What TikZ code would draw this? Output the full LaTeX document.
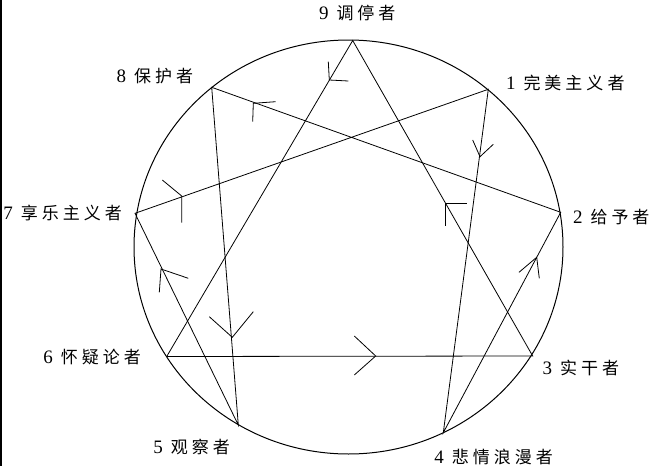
\documentclass[tikz,border=0pt]{standalone}
\usepackage{fontspec}
\setmainfont{Liberation Serif}
\newfontfamily\cjk{Noto Sans CJK SC}
\def\spaced#1{\ifx#1\relax\else#1\kern4pt\expandafter\spaced\fi}
\newcommand\lab[2]{{\fontsize{19}{19}\selectfont #1}\kern8pt{\cjk\fontsize{17}{17}\selectfont\spaced #2\relax}}
\begin{document}
\begin{tikzpicture}[x=1pt,y=-1pt,
  edge/.style={line width=0.8pt,black},
  barb/.style={line width=0.8pt,black,line join=miter},
  lbl/.style={anchor=base west,inner sep=0pt,outer sep=0pt}]
\useasboundingbox (0,0) rectangle (654,466);
\draw[line width=1.6pt] (0.8,0) -- (0.8,466);
\draw[line width=1pt] (348.5,247) ellipse [x radius=214.5, y radius=207];
\coordinate (p9) at (352.7,40.5);
\coordinate (p1) at (488.3,89.3);
\coordinate (p2) at (560.7,212.3);
\coordinate (p3) at (532.7,356);
\coordinate (p4) at (443.3,432.7);
\coordinate (p5) at (238.3,425);
\coordinate (p6) at (166.7,356.5);
\coordinate (p7) at (135,213.3);
\coordinate (p8) at (211.7,87.3);
\draw[edge] (p9) -- (p3) -- (p6) -- cycle;
\draw[edge] (p1) -- (p4) -- (p2) -- (p8) -- (p5) -- (p7) -- cycle;
% arrowheads
\draw[barb] (328.3,61.7) -- (329.3,80) -- (348.3,81);
\draw[barb] (275.7,101.7) -- (253.3,103.3) -- (252.7,121.7);
\draw[barb] (472.7,140) -- (480,156.7) -- (493.3,144.3);
\draw[barb] (466.7,203.3) -- (445,203.3) -- (445,226);
\draw[barb] (162.3,180) -- (181.7,196) -- (181.7,222.7);
\draw[barb] (188.3,278.3) -- (161,269) -- (159.3,292.3);
\draw[barb] (209.3,316.7) -- (232.3,337.3) -- (253.3,311.7);
\draw[barb] (354.3,336) -- (375.7,356) -- (354.3,375);
\draw[barb] (519,272.3) -- (536.7,257.3) -- (539.3,278.3);
% labels
\node[lbl] (t9) at (319,19.5) {\lab{9}{调停者}};
\node[lbl] (t8) at (116.7,82.5) {\lab{8}{保护者}};
\node[lbl] (t1) at (506,89.2) {\lab{1}{完美主义者}};
\node[lbl] (t2) at (573,223.2) {\lab{2}{给予者}};
\node[lbl] (t7) at (3.3,219.8) {\lab{7}{享乐主义者}};
\node[lbl] (t6) at (43.3,363.8) {\lab{6}{怀疑论者}};
\node[lbl] (t5) at (153.3,453.2) {\lab{5}{观察者}};
\node[lbl] (t3) at (542.7,374.2) {\lab{3}{实干者}};
\node[lbl] (t4) at (434.3,463.2) {\lab{4}{悲情浪漫者}};
\end{tikzpicture}
\end{document}
